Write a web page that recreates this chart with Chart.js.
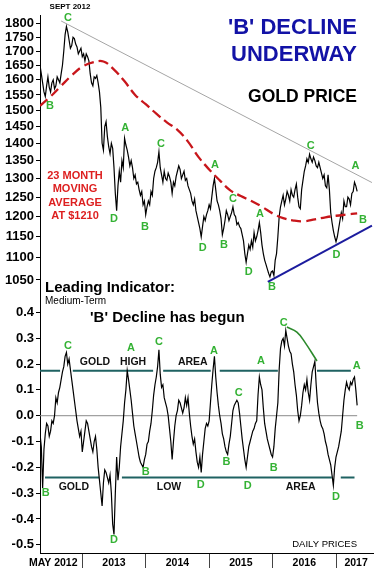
<!DOCTYPE html>
<html>
<head>
<meta charset="utf-8">
<script src="https://cdn.jsdelivr.net/npm/chart.js@4.4.1/dist/chart.umd.min.js"></script>
<style>
  html, body { margin: 0; padding: 0; background: #fff; }
  canvas { display: block; }
</style>
</head>
<body>
<canvas id="gold" width="375" height="570"></canvas>
<script>
// months counted from May 2012, series read every quarter month
const monthStep = 0.25;
const priceValues = [
  1650, 1620, 1590, 1560, 1545, 1580, 1610, 1575,
  1560, 1590, 1600, 1570, 1580, 1610, 1600, 1590,
  1620, 1650, 1700, 1760, 1790, 1770, 1740, 1710,
  1720, 1750, 1745, 1725, 1715, 1690, 1700, 1710,
  1680, 1690, 1665, 1690, 1680, 1665, 1620, 1590,
  1580, 1610, 1605, 1615, 1590, 1560, 1510, 1400,
  1380, 1450, 1465, 1420, 1390, 1370, 1400, 1385,
  1330, 1260, 1215, 1280, 1320, 1290, 1350, 1330,
  1415, 1395, 1380, 1360, 1335, 1350, 1330, 1300,
  1310, 1285, 1290, 1270, 1255, 1265, 1230, 1240,
  1205, 1225, 1240, 1230, 1265, 1255, 1300, 1320,
  1330, 1345, 1375, 1330, 1310, 1290, 1320, 1300,
  1295, 1315, 1305, 1290, 1260, 1290, 1280, 1305,
  1320, 1335, 1325, 1300, 1310, 1320, 1295, 1300,
  1280, 1270, 1260, 1240, 1230, 1245, 1215, 1200,
  1185, 1170, 1150, 1175, 1200, 1190, 1205, 1215,
  1230, 1220, 1250, 1280, 1300, 1270, 1240, 1230,
  1215, 1195, 1155, 1170, 1190, 1215, 1205, 1190,
  1200, 1210, 1225, 1205, 1200, 1180, 1185, 1175,
  1170, 1155, 1140, 1110, 1090, 1110, 1130, 1120,
  1140, 1125, 1160, 1140, 1150, 1165, 1185, 1160,
  1130, 1110, 1095, 1085, 1075, 1065, 1057, 1068,
  1070, 1060, 1095, 1110, 1150, 1200, 1225, 1240,
  1255, 1230, 1245, 1265, 1255, 1240, 1270, 1255,
  1250, 1270, 1285, 1250, 1225, 1220, 1270, 1295,
  1320, 1335, 1355, 1345, 1368, 1355, 1345, 1360,
  1350, 1335, 1330, 1345, 1330, 1315, 1300, 1310,
  1280, 1275, 1310, 1270, 1210, 1185, 1165, 1150,
  1138, 1150, 1170, 1190, 1210, 1195, 1240, 1225,
  1225, 1250, 1245, 1230, 1260, 1265, 1290, 1280,
  1265
];
const indicatorValues = [
  -0.07, -0.12, -0.28, -0.13, -0.07, -0.03, -0.04, -0.08,
  -0.06, -0.02, -0.03, 0.0, 0.07, 0.05, 0.09, 0.11,
  0.14, 0.17, 0.19, 0.23, 0.245, 0.2, 0.22, 0.18,
  0.14, 0.1, 0.06, 0.02, -0.02, -0.05, -0.08, -0.06,
  -0.14, -0.1, -0.06, -0.02, -0.03, -0.06, -0.09, -0.12,
  -0.14, -0.1, -0.08, -0.13, -0.2, -0.25, -0.3, -0.35,
  -0.26, -0.21, -0.22, -0.24, -0.26, -0.23, -0.3, -0.42,
  -0.46, -0.3, -0.16, -0.25, -0.2, -0.12, -0.07, -0.02,
  0.05, 0.1, 0.175, 0.14, 0.1, 0.06, 0.01, -0.04,
  -0.07, -0.1, -0.13, -0.16, -0.18, -0.19, -0.2, -0.17,
  -0.15, -0.11, -0.1, -0.06, -0.03, 0.02, 0.08, 0.12,
  0.15, 0.19, 0.255, 0.16, 0.11, 0.12, 0.07, 0.05,
  0.03, 0.0, -0.05, -0.1, -0.17, -0.1, -0.04, 0.0,
  0.02, 0.06, 0.05, 0.03, 0.01, 0.03, 0.07, 0.04,
  0.07, 0.01, -0.04, -0.08, -0.11, -0.09, -0.14, -0.18,
  -0.2, -0.16, -0.22, -0.15, -0.1, -0.05, -0.03, -0.04,
  -0.02, 0.05, 0.12, 0.18, 0.23, 0.15, 0.09, 0.04,
  0.0, -0.03, -0.07, -0.09, -0.12, -0.14, -0.15, -0.11,
  -0.08, -0.03, 0.02, 0.04, 0.05, 0.06, 0.05, 0.01,
  -0.04, -0.09, -0.13, -0.17, -0.2, -0.16, -0.12, -0.1,
  -0.08, -0.06, -0.05, -0.03, -0.02, 0.08, 0.15, 0.12,
  0.1, 0.03, -0.03, -0.06, -0.09, -0.11, -0.13, -0.15,
  -0.16, -0.12, -0.05, 0.0, 0.05, 0.18, 0.26, 0.29,
  0.3, 0.27, 0.33, 0.3, 0.27, 0.25, 0.24, 0.2,
  0.17, 0.12, 0.08, 0.02, -0.02, 0.0, 0.04, 0.09,
  0.12, 0.1, 0.14, 0.09, 0.06, 0.12, 0.17, 0.19,
  0.21, 0.12, 0.05, 0.01, -0.02, -0.04, -0.05, -0.07,
  -0.1, -0.12, -0.15, -0.17, -0.19, -0.23, -0.27, -0.2,
  -0.16, -0.14, -0.12, -0.09, -0.06, 0.0, 0.06, 0.1,
  0.13, 0.11, 0.1, 0.13, 0.12, 0.14, 0.15, 0.1,
  0.04
];
// 23 month moving average, every 2 months
const maStep = 2;
const maValues = [
  1515, 1545, 1580, 1615, 1645, 1660, 1663, 1635, 1595, 1550,
  1520, 1490, 1463, 1440, 1405, 1360, 1325, 1295, 1268, 1253,
  1240, 1225, 1208, 1196, 1190, 1188, 1193, 1198, 1202, 1205, 1208
];
const resistanceX = [4.0, 62.8];
const resistanceY = [1811, 1289];
const supportX = [43.1, 62.8];
const supportY = [1046, 1177];
const highAreaLevel = 0.174;
const highAreaSpans = [[0, 3.8], [6.2, 21.4], [23.3, 32.3], [34, 45], [52.4, 58.8]];
const lowAreaLevel = -0.239;
const lowAreaSpans = [[0.95, 11.2], [15.5, 55.2], [56.9, 59.5]];
const arcX = [46.7, 48.6, 50.1, 52.4];
const arcY = [0.344, 0.324, 0.285, 0.212];

const priceTicks = [1050, 1100, 1150, 1200, 1250, 1300, 1350, 1400, 1450, 1500, 1550, 1600, 1650, 1700, 1750, 1800];
const indicatorTicks = [-0.5, -0.4, -0.3, -0.2, -0.1, 0, 0.1, 0.2, 0.3, 0.4];
const yearLabels = ['MAY 2012', '2013', '2014', '2015', '2016', '2017'];
const yearLabelMonths = [2.5, 14, 26, 38, 50, 59.8];
const yearBoundaryMonths = [8, 20, 32, 44, 56];

// wave letters: [text, month, value]
const priceWaves = [
  ['C', 5.3, 1823], ['B', 1.9, 1514], ['A', 16.1, 1446], ['C', 22.9, 1398],
  ['D', 14, 1194], ['B', 19.85, 1174], ['A', 33.1, 1338], ['C', 36.5, 1245],
  ['A', 41.6, 1207], ['D', 30.8, 1123], ['B', 34.8, 1130], ['D', 39.5, 1068],
  ['B', 43.9, 1035], ['C', 51.2, 1392], ['A', 59.7, 1335], ['B', 61.1, 1191],
  ['D', 56.1, 1107]
];
const indicatorWaves = [
  ['C', 5.3, 0.27], ['A', 17.2, 0.262], ['C', 22.5, 0.286], ['A', 32.9, 0.251],
  ['A', 41.8, 0.212], ['C', 46.1, 0.359], ['A', 59.9, 0.193], ['C', 37.6, 0.088],
  ['B', 60.5, -0.04], ['B', 1.1, -0.3], ['D', 14, -0.482], ['B', 20, -0.218],
  ['D', 30.4, -0.269], ['B', 35.3, -0.179], ['D', 39.3, -0.272], ['B', 44.2, -0.203],
  ['D', 56, -0.315]
];
const areaWords = [
  ['GOLD', 10.4, 0.208], ['HIGH', 17.6, 0.208], ['AREA', 28.9, 0.208],
  ['GOLD', 6.4, -0.276], ['LOW', 24.4, -0.276], ['AREA', 49.3, -0.276]
];

const FONT = '"Liberation Sans", Arial, sans-serif';
const GREEN = '#34b234';

const series = vals => vals.map((v, i) => ({ x: i * monthStep, y: v }));
const pairs = (xs, ys) => xs.map((x, i) => ({ x: x, y: ys[i] }));
const spans = (list, level) => {
  const out = [];
  list.forEach(([a, b]) => { out.push({ x: a, y: level }, { x: b, y: level }, { x: b, y: null }); });
  return out;
};
const xTicks = yearLabelMonths.concat(yearBoundaryMonths).sort((a, b) => a - b);

const annotate = {
  id: 'annotate',
  afterDatasetsDraw(chart) {
    const { ctx, scales } = chart;
    const x = scales.x, yp = scales.y, yi = scales.y2;
    const put = (t, px, py, font, color, align) => {
      ctx.font = font;
      ctx.fillStyle = color;
      ctx.textAlign = align || 'center';
      ctx.fillText(t, px, py);
    };
    ctx.save();
    ctx.textBaseline = 'middle';
    priceWaves.forEach(([t, m, v]) => put(t, x.getPixelForValue(m), yp.getPixelForValue(v), 'bold 11px ' + FONT, GREEN));
    indicatorWaves.forEach(([t, m, v]) => put(t, x.getPixelForValue(m), yi.getPixelForValue(v), 'bold 11px ' + FONT, GREEN));
    areaWords.forEach(([t, m, v]) => put(t, x.getPixelForValue(m), yi.getPixelForValue(v), 'bold 10.5px ' + FONT, '#111'));

    put('SEPT 2012', 70, 7, 'bold 8px ' + FONT, '#000');
    put("'B' DECLINE", 357, 28, 'bold 22px ' + FONT, '#1212a6', 'right');
    put('UNDERWAY', 357, 55, 'bold 22px ' + FONT, '#1212a6', 'right');
    put('GOLD PRICE', 357, 97, 'bold 17.5px ' + FONT, '#000', 'right');
    ['23 MONTH', 'MOVING', 'AVERAGE', 'AT $1210'].forEach((t, i) =>
      put(t, 75, 176 + i * 13.4, 'bold 11px ' + FONT, '#dd1f1f'));
    put('Leading Indicator:', 45, 288, 'bold 15px ' + FONT, '#000', 'left');
    put('Medium-Term', 45, 301, '10px ' + FONT, '#000', 'left');
    put("'B' Decline has begun", 90, 318, 'bold 15px ' + FONT, '#000', 'left');
    put('DAILY PRICES', 357, 544, '9.5px ' + FONT, '#000', 'right');
    ctx.restore();
  }
};

const yAxisBase = {
  position: 'left',
  stack: 'panels',
  afterFit: s => { s.width = 40; },
  grid: { drawOnChartArea: false, tickLength: 4, color: '#000' },
  border: { display: true, color: '#000', width: 1 },
  ticks: { autoSkip: false, padding: 2, color: '#000', font: { family: FONT, size: 13, weight: 'bold' } }
};

new Chart(document.getElementById('gold'), {
  type: 'line',
  data: {
    datasets: [
      { data: pairs(maValues.map((v, i) => i * maStep), maValues), yAxisID: 'y',
        borderColor: '#c8161b', borderWidth: 2.3, borderDash: [10, 5], tension: 0.4 },
      { data: series(priceValues), yAxisID: 'y', borderColor: '#000', borderWidth: 1.2 },
      { data: pairs(resistanceX, resistanceY), yAxisID: 'y', borderColor: '#a5a5a5', borderWidth: 1 },
      { data: pairs(supportX, supportY), yAxisID: 'y', borderColor: '#1c1c9e', borderWidth: 2 },
      { data: pairs(arcX, arcY), yAxisID: 'y2', borderColor: '#2c8a2c', borderWidth: 1.6, tension: 0.4 },
      { data: series(indicatorValues), yAxisID: 'y2', borderColor: '#000', borderWidth: 1.2 },
      { data: spans(highAreaSpans, highAreaLevel), yAxisID: 'y2', borderColor: '#1f6262', borderWidth: 2, spanGaps: false },
      { data: spans(lowAreaSpans, lowAreaLevel), yAxisID: 'y2', borderColor: '#1f6262', borderWidth: 2, spanGaps: false },
      { data: [{ x: 0, y: 0 }, { x: (indicatorValues.length - 1) * monthStep, y: 0 }], yAxisID: 'y2',
        borderColor: '#8a8a8a', borderWidth: 1 }
    ]
  },
  options: {
    responsive: false,
    animation: false,
    devicePixelRatio: 1,
    layout: { padding: { top: 15, right: 2, left: 0, bottom: 0 } },
    elements: { point: { radius: 0 }, line: { fill: false } },
    plugins: { legend: { display: false }, tooltip: { enabled: false } },
    scales: {
      x: {
        type: 'linear', min: 0, max: 63,
        afterBuildTicks: s => { s.ticks = xTicks.map(v => ({ value: v })); },
        afterFit: s => { s.height = 17; },
        ticks: {
          autoSkip: false, maxRotation: 0, padding: -11, color: '#000',
          font: { family: FONT, size: 10.5, weight: 'bold' },
          callback: v => { const i = yearLabelMonths.indexOf(v); return i < 0 ? '' : yearLabels[i]; }
        },
        grid: {
          drawOnChartArea: false, tickLength: 15,
          tickColor: c => yearBoundaryMonths.includes(c.tick && c.tick.value) ? '#444' : 'rgba(0,0,0,0)'
        },
        border: { color: '#000', width: 1 }
      },
      // left stacked axes are placed in reverse order, so the indicator axis comes first
      y2: Object.assign({}, yAxisBase, {
        type: 'linear', min: -0.532, max: 0.5065, stackWeight: 268,
        afterBuildTicks: s => { s.ticks = indicatorTicks.map(v => ({ value: v })); },
        ticks: Object.assign({}, yAxisBase.ticks, { callback: v => v.toFixed(1) })
      }),
      y: Object.assign({}, yAxisBase, {
        type: 'logarithmic', min: 1039, max: 1834, stackWeight: 270,
        afterBuildTicks: s => { s.ticks = priceTicks.map(v => ({ value: v })); },
        ticks: Object.assign({}, yAxisBase.ticks, { callback: v => String(v) })
      })
    }
  },
  plugins: [annotate]
});
</script>
</body>
</html>
